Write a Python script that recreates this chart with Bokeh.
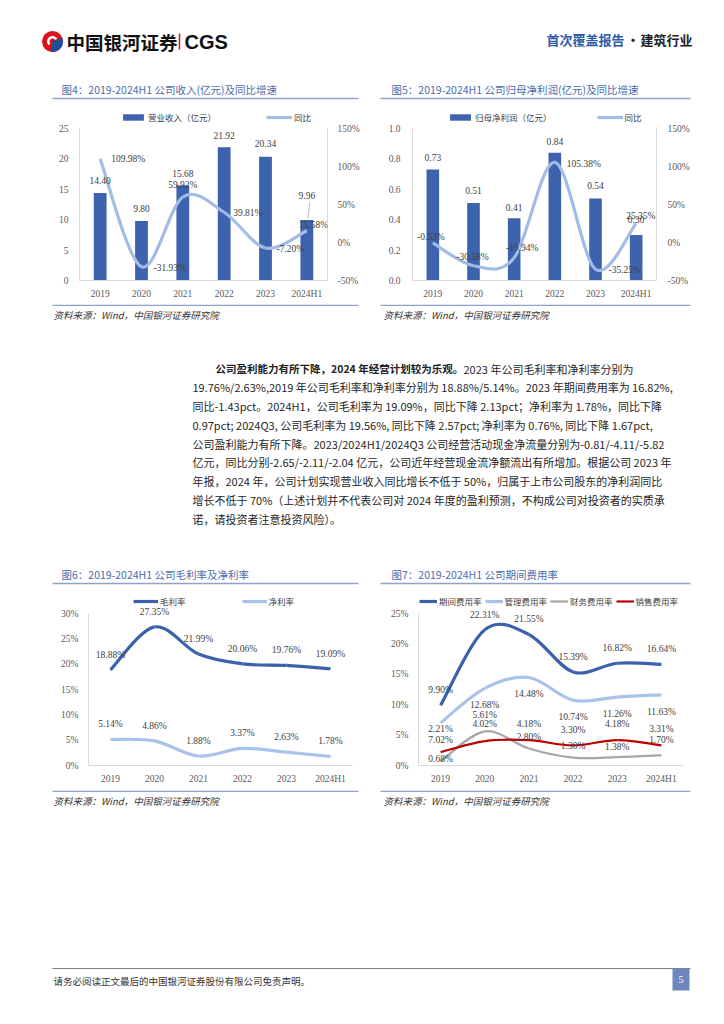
from bokeh.plotting import figure
from bokeh.models import (Range1d, LinearAxis, FixedTicker, PrintfTickFormatter,
                          ColumnDataSource, Legend, LegendItem, LabelSet)
from bokeh.layouts import column, row
from bokeh.embed import file_html
from bokeh.resources import INLINE
from bokeh.core.properties import value

# ---------------- data ----------------
CATS = ["2019", "2020", "2021", "2022", "2023", "2024H1"]
REVENUE = [14.40, 9.80, 15.68, 21.92, 20.34, 9.96]
REVENUE_YOY = [109.98, -31.93, 59.92, 39.81, -7.20, 15.58]
NET_PROFIT = [0.73, 0.51, 0.41, 0.84, 0.54, 0.30]
NET_PROFIT_YOY = [-0.53, -30.58, -19.94, 105.38, -35.25, 25.35]
GROSS_MARGIN = [18.88, 27.35, 21.99, 20.06, 19.76, 19.09]
NET_MARGIN = [5.14, 4.86, 1.88, 3.37, 2.63, 1.78]
EXPENSE_RATE = [9.90, 22.31, 21.55, 15.39, 16.82, 16.64]
ADMIN_RATE = [7.02, 12.68, 14.48, 10.74, 11.26, 11.63]
FIN_RATE = [0.68, 5.61, 2.80, 1.30, 1.38, 1.70]
SALES_RATE = [2.21, 4.02, 4.18, 3.30, 4.18, 3.31]

TITLE4 = "图4：2019-2024H1 公司收入(亿元)及同比增速"
TITLE5 = "图5：2019-2024H1 公司归母净利润(亿元)及同比增速"
TITLE6 = "图6：2019-2024H1 公司毛利率及净利率"
TITLE7 = "图7：2019-2024H1 公司期间费用率"
SOURCE = "资料来源：Wind，中国银河证券研究院"
PARA_BOLD = "公司盈利能力有所下降，2024 年经营计划较为乐观。"
PARA_FIRST_REST = "2023 年公司毛利率和净利率分别为"
PARA_LINES = [
    "19.76%/2.63%,2019 年公司毛利率和净利率分别为 18.88%/5.14%。2023 年期间费用率为 16.82%,",
    "同比-1.43pct。2024H1，公司毛利率为 19.09%，同比下降 2.13pct；净利率为 1.78%，同比下降",
    "0.97pct; 2024Q3, 公司毛利率为 19.56%, 同比下降 2.57pct; 净利率为 0.76%, 同比下降 1.67pct,",
    "公司盈利能力有所下降。2023/2024H1/2024Q3 公司经营活动现金净流量分别为-0.81/-4.11/-5.82",
    "亿元，同比分别-2.65/-2.11/-2.04 亿元，公司近年经营现金流净额流出有所增加。根据公司 2023 年",
    "年报，2024 年，公司计划实现营业收入同比增长不低于 50%，归属于上市公司股东的净利润同比",
    "增长不低于 70%（上述计划并不代表公司对 2024 年度的盈利预测，不构成公司对投资者的实质承",
    "诺，请投资者注意投资风险）。",
]
FOOTER = "请务必阅读正文最后的中国银河证券股份有限公司免责声明。"

# ---------------- styles ----------------
CJK = "Noto Sans CJK SC"
SERIF = "Liberation Serif"
BAR_C = "#3d62ae"
LIGHT_C = "#a3bce6"
DARK_C = "#3b60ad"
GRAY_C = "#a6a6a6"
RED_C = "#c00000"
TITLE_C = "#4a6cab"
RULE_C = "#8fa2cb"
AXIS_C = "#d9d9d9"
TICK_TXT = "#595959"
LBL_TXT = "#404040"
PAGE_W = 724
PLOT_H = 152          # height of the value area of every chart

XS = list(range(len(CATS)))


def bezier_source(xs, ys):
    n = len(xs)
    d = dict(x0=[], y0=[], x1=[], y1=[], cx0=[], cy0=[], cx1=[], cy1=[])
    for i in range(n - 1):
        xa, ya = xs[max(i - 1, 0)], ys[max(i - 1, 0)]
        xb, yb = xs[i], ys[i]
        xc, yc = xs[i + 1], ys[i + 1]
        xd, yd = xs[min(i + 2, n - 1)], ys[min(i + 2, n - 1)]
        d["x0"].append(xb); d["y0"].append(yb)
        d["x1"].append(xc); d["y1"].append(yc)
        d["cx0"].append(xb + (xc - xa) / 6.0); d["cy0"].append(yb + (yc - ya) / 6.0)
        d["cx1"].append(xc - (xd - xb) / 6.0); d["cy1"].append(yc - (yd - yb) / 6.0)
    return ColumnDataSource(d)


def style_axis(ax, standoff, line=True):
    ax.axis_line_color = AXIS_C if line else None
    ax.axis_line_width = 1
    ax.major_tick_line_color = None
    ax.minor_tick_line_color = None
    ax.major_tick_out = 0
    ax.major_tick_in = 0
    ax.major_label_standoff = standoff
    ax.major_label_text_font = SERIF
    ax.major_label_text_font_size = "9.5px"
    ax.major_label_text_color = TICK_TXT


def padded(lo, hi, top_pad):
    # range whose [lo, hi] part fills PLOT_H pixels, with top_pad pixels of head-room
    return Range1d(lo, lo + (hi - lo) * (PLOT_H + top_pad) / PLOT_H)


def base_chart(fw, top_pad, left, right, bottom, lo, hi):
    p = figure(frame_width=fw, frame_height=PLOT_H + top_pad,
               x_range=Range1d(-0.5, len(CATS) - 0.5), y_range=padded(lo, hi, top_pad),
               x_axis_type=None, y_axis_type=None, output_backend="svg",
               toolbar_location=None, min_border_left=left, min_border_right=right,
               min_border_top=0, min_border_bottom=bottom, title=None)
    p.outline_line_color = None
    p.background_fill_color = "white"
    p.border_fill_color = "white"
    xa = LinearAxis(ticker=FixedTicker(ticks=XS),
                    major_label_overrides={i: c for i, c in enumerate(CATS)})
    style_axis(xa, 8)
    p.add_layout(xa, "below")
    return p


def add_labels(p, xs, ys, texts, dxs, dys, aligns, y_range_name="default"):
    # dys: screen pixels, negative = upwards
    for al in ("left", "center"):
        idx = [i for i in range(len(xs)) if aligns[i] == al]
        if not idx:
            continue
        src = ColumnDataSource(dict(x=[xs[i] for i in idx], y=[ys[i] for i in idx],
                                    t=[texts[i] for i in idx], dx=[dxs[i] for i in idx],
                                    dy=[-dys[i] for i in idx]))
        ls = LabelSet(x="x", y="y", text="t", x_offset="dx", y_offset="dy", source=src,
                      text_font=value(SERIF), text_font_size=value("9.5px"),
                      text_color=LBL_TXT, text_align=al, text_baseline="middle",
                      y_range_name=y_range_name)
        p.add_layout(ls)


def make_legend(items, x, y, spacing, gw, gh):
    lg = Legend(items=items, orientation="horizontal", location=(x, y),
                border_line_color=None, background_fill_alpha=0, padding=0, margin=0,
                spacing=spacing, glyph_width=gw, glyph_height=gh, label_standoff=2,
                label_height=10, label_text_font=CJK, label_text_font_size="8.5px",
                label_text_color="#404040")
    return lg


def bar_line_chart(bars, bar_fmt, bar_dy, yoy, yoy_dx, yoy_dy, yoy_al, left_max, left_step,
                   left_fmt, bar_name, fw, left, right, leg_x, leg_sp, l_stand, r_stand):
    top_pad = 20
    p = base_chart(fw, top_pad, left, right, 24, 0, left_max)
    p.extra_y_ranges = {"yoy": padded(-50, 150, top_pad)}
    la = LinearAxis(ticker=FixedTicker(ticks=[left_step * k for k in range(6)]),
                    formatter=PrintfTickFormatter(format=left_fmt), bounds=(0, left_max))
    style_axis(la, l_stand)
    p.add_layout(la, "left")
    ra = LinearAxis(y_range_name="yoy", ticker=FixedTicker(ticks=[-50, 0, 50, 100, 150]),
                    formatter=PrintfTickFormatter(format="%d%%"), bounds=(-50, 150))
    style_axis(ra, r_stand)
    p.add_layout(ra, "right")
    rb = p.vbar(x=XS, top=bars, width=0.31, fill_color=BAR_C, line_color=None)
    rl = p.bezier(x0="x0", y0="y0", x1="x1", y1="y1", cx0="cx0", cy0="cy0", cx1="cx1",
                  cy1="cy1", source=bezier_source(XS, yoy), line_color=LIGHT_C,
                  line_width=3.2, y_range_name="yoy")
    add_labels(p, XS, bars, [bar_fmt % v for v in bars], [0] * 6, bar_dy, ["center"] * 6)
    add_labels(p, XS, yoy, ["%.2f%%" % v for v in yoy], yoy_dx, yoy_dy, yoy_al, "yoy")
    lg = make_legend([LegendItem(label=value(bar_name), renderers=[rb], index=0),
                      LegendItem(label=value("同比"), renderers=[rl], index=0)],
                     leg_x, PLOT_H + 5, leg_sp, 26, 8)
    p.add_layout(lg, "center")
    return p


# ---- figure 4 ----
p4 = bar_line_chart(REVENUE, "%.2f", [-12, -12, -12, -12, -13, -24], REVENUE_YOY,
                    [11, 12, 0, 9, 11, -8], [0, 1, -12, 1, 1, -6],
                    ["left", "left", "center", "left", "left", "left"],
                    25, 5, "%d", "营业收入（亿元）", 248, 79, 35, 41, 50, 11, 10)
last = len(CATS) - 1
p4.segment(x0=[XS[last] + 0.03], y0=[REVENUE[last] + 0.3], x1=[XS[last] + 0.07],
           y1=[REVENUE[last] + 2.9], line_color="#a6a6a6", line_width=0.8)

# ---- figure 5 ----
p5 = bar_line_chart(NET_PROFIT, "%.2f", [-12, -12, -11, -11, -13, -15], NET_PROFIT_YOY,
                    [-2, -1, 8, 12, 13, -10], [-6, -9, -10, 2, 1, -7],
                    ["center", "center", "center", "left", "left", "left"],
                    1.0, 0.2, "%.1f", "归母净利润（亿元）", 244, 50, 68, 35, 45, 12, 11)


# ---- figures 6 / 7 ----
def line_chart(series, colors, widths, names, dys, ymax, fw, left, right, leg_x, leg_sp, gw):
    top_pad = 23
    p = base_chart(fw, top_pad, left, right, 25, 0, ymax)
    la = LinearAxis(ticker=FixedTicker(ticks=list(range(0, ymax + 1, 5))),
                    formatter=PrintfTickFormatter(format="%d%%"), bounds=(0, ymax))
    style_axis(la, 10)
    p.add_layout(la, "left")
    items = []
    for s, c, w, n, dy in zip(series, colors, widths, names, dys):
        r = p.bezier(x0="x0", y0="y0", x1="x1", y1="y1", cx0="cx0", cy0="cy0", cx1="cx1",
                     cy1="cy1", source=bezier_source(XS, s), line_color=c, line_width=w)
        items.append(LegendItem(label=value(n), renderers=[r], index=0))
        add_labels(p, XS, s, ["%.2f%%" % v for v in s], [0] * 6, dy, ["center"] * 6)
    p.add_layout(make_legend(items, leg_x, PLOT_H + 6, leg_sp, gw, 8), "center")
    return p


p6 = line_chart([GROSS_MARGIN, NET_MARGIN], [DARK_C, "#a9c2ea"], [3.2, 3.2],
                ["毛利率", "净利率"], [[-15] * 6, [-15] * 6], 30, 264, 88, 10, 45, 56, 25)

p7 = line_chart([EXPENSE_RATE, ADMIN_RATE, FIN_RATE, SALES_RATE],
                [DARK_C, "#a9c2ea", GRAY_C, RED_C], [3.2, 3.2, 2.2, 2.2],
                ["期间费用率", "管理费用率", "财务费用率", "销售费用率"],
                [[-15] * 6, [17] * 6, [-2, -16, -11, -12, -10, -15],
                 [-23, -17, -16, -15, -16, -16]], 25, 265, 56, 41, 1, 3, 18)


# ---------------- page canvases ----------------
def canvas(h):
    p = figure(width=PAGE_W, height=h, x_range=Range1d(0, PAGE_W), y_range=Range1d(h, 0),
               x_axis_type=None, y_axis_type=None, output_backend="svg",
               toolbar_location=None, min_border=0, title=None)
    p.outline_line_color = None
    return p


def put(p, x, y, s, size, color, font=CJK, style="normal", align="left"):
    p.text(x=[x], y=[y], text=[s], text_font=value(font), text_font_size=value("%spx" % size),
           text_color=color, text_font_style=style, text_align=align, text_baseline="middle")


def rule(p, x0, x1, y, color=RULE_C, w=1.5):
    p.segment(x0=[x0], y0=[y], x1=[x1], y1=[y], line_color=color, line_width=w)


# header + top titles
cA = canvas(108)
cA.circle(x=[52], y=[41], radius=10.5, radius_units="screen", fill_color="#d7141a",
          line_color=None)
cA.wedge(x=[52], y=[41], radius=10.5, radius_units="screen", start_angle=-1.75,
         end_angle=0.35, fill_color="#1f4e9c", line_color=None)
cA.annular_wedge(x=[52], y=[41], inner_radius=3, outer_radius=5.5, inner_radius_units="screen",
                 outer_radius_units="screen", start_angle=0.5, end_angle=3.9,
                 fill_color="white", line_color=None)
put(cA, 66, 41, "中国银河证券", 18.5, "#111111", style="bold")
cA.segment(x0=[179], y0=[33], x1=[179], y1=[49], line_color="#d7141a", line_width=1.5)
put(cA, 184, 41, "CGS", 20, "#111111", font="Liberation Sans", style="bold")
put(cA, 546, 39, "首次覆盖报告", 13, "#2f5aa8", style="bold")
put(cA, 626, 39, "·", 13, "#222222", style="bold")
put(cA, 640, 39, "建筑行业", 13, "#222222", style="bold")
put(cA, 61, 89, TITLE4, 10.5, TITLE_C)
put(cA, 391, 89, TITLE5, 10.5, TITLE_C)
rule(cA, 52, 358, 98)
rule(cA, 380, 690, 98)

# sources + paragraph + lower titles
cB = canvas(286)
rule(cB, 52, 358, 0.8)
rule(cB, 380, 690, 0.8)
put(cB, 53, 10, SOURCE, 9.5, "#333333", style="italic")
put(cB, 383, 10, SOURCE, 9.5, "#333333", style="italic")
put(cB, 215, 64, PARA_BOLD, 10.5, "#222222", style="bold")
put(cB, 463, 64, PARA_FIRST_REST, 11, "#262626")
for k, line in enumerate(PARA_LINES):
    put(cB, 192, 64 + 18.75 * (k + 1), line, 11, "#262626")
put(cB, 61, 270, TITLE6, 10.5, TITLE_C)
put(cB, 391, 270, TITLE7, 10.5, TITLE_C)
rule(cB, 52, 358, 279)
rule(cB, 380, 690, 279)

# lower sources + footer
cC = canvas(234)
rule(cC, 52, 358, 0.8)
rule(cC, 380, 690, 0.8)
put(cC, 53, 10, SOURCE, 9.5, "#333333", style="italic")
put(cC, 383, 10, SOURCE, 9.5, "#333333", style="italic")
rule(cC, 52, 690, 178, color="#7f7f7f", w=1)
put(cC, 53, 190, FOOTER, 9.5, "#333333")
cC.quad(left=[672], right=[689], top=[178], bottom=[200], fill_color="#6d87bd",
        line_color=None)
put(cC, 680.5, 189, "5", 10, "white", font=SERIF, align="center")

page = column(cA, row(p4, p5), cB, row(p6, p7), cC)
open("out.html", "w").write(file_html(page, INLINE))
